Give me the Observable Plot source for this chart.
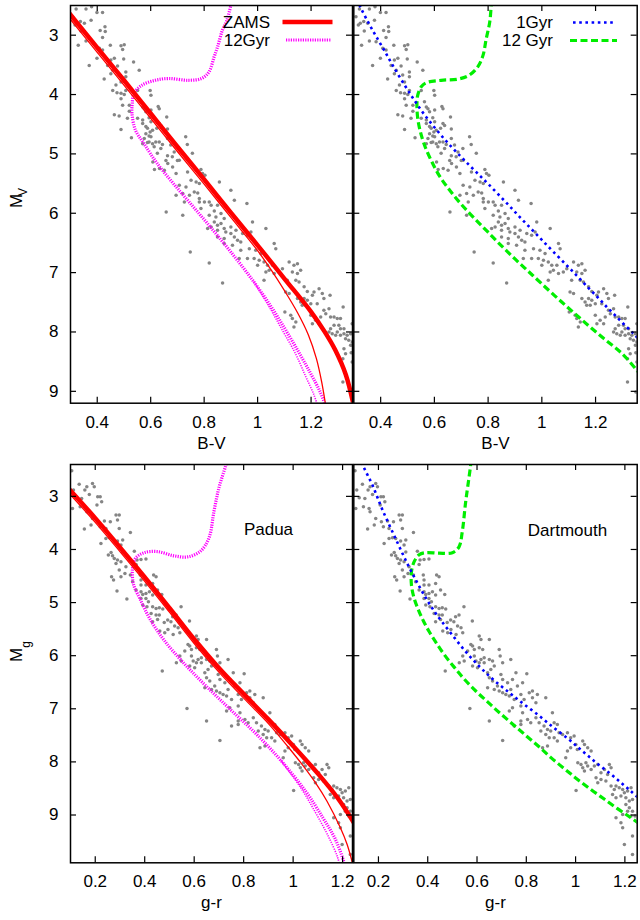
<!DOCTYPE html>
<html><head><meta charset="utf-8">
<script src="https://cdn.jsdelivr.net/npm/d3@7"></script>
<script src="https://cdn.jsdelivr.net/npm/@observablehq/plot@0.6"></script>
<style>
body{margin:0;background:#fff;font-family:"Liberation Sans",Arial,sans-serif;}
#wrap{position:relative;width:640px;height:920px;overflow:hidden;background:#fff}
.panel{position:absolute}
#legend{position:absolute;left:0;top:0;pointer-events:none}
</style></head><body><div id="wrap"></div>
<script>
// ---------- tick values ----------
const bvTicks = [0.4, 0.6, 0.8, 1.0, 1.2];
const grTicks = [0.2, 0.4, 0.6, 0.8, 1.0, 1.2];
const magTicks = [3, 4, 5, 6, 7, 8, 9];

// ---------- stars (B-V, M_V) ----------
const bvStars = [
[0.321,2.56],[0.358,2.56],[0.379,2.52],[0.399,2.62],[0.42,2.62],[0.308,2.69],[0.324,2.80],[0.317,2.83],[0.337,2.77],[0.352,2.80],[0.377,2.75],[0.411,2.92],[0.429,2.86],[0.43,2.94],[0.339,2.93],[0.358,3.10],[0.383,3.11],[0.329,3.17],[0.42,3.04],[0.449,3.17],[0.489,3.18],[0.501,3.16],[0.495,3.24],[0.408,3.22],[0.42,3.25],[0.399,3.39],[0.37,3.51],[0.451,3.42],[0.464,3.39],[0.439,3.51],[0.476,3.52],[0.499,3.40],[0.536,3.45],[0.458,3.59],[0.451,3.65],[0.482,3.67],[0.507,3.62],[0.507,3.70],[0.557,3.59],[0.426,3.74],[0.47,3.84],[0.489,3.79],[0.458,3.93],[0.474,3.97],[0.489,3.98],[0.501,4.0],[0.507,3.93],[0.551,3.93],[0.598,3.93],[0.601,4.01],[0.489,4.07],[0.495,4.18],[0.52,4.18],[0.52,4.28],[0.563,4.12],[0.57,4.21],[0.576,4.24],[0.582,4.29],[0.601,4.26],[0.628,4.20],[0.632,4.24],[0.464,4.34],[0.482,4.36],[0.513,4.40],[0.551,4.40],[0.57,4.43],[0.594,4.39],[0.57,4.49],[0.601,4.46],[0.66,4.38],[0.489,4.59],[0.582,4.54],[0.588,4.57],[0.598,4.63],[0.607,4.60],[0.632,4.49],[0.638,4.52],[0.623,4.57],[0.663,4.58],[0.582,4.66],[0.594,4.70],[0.576,4.74],[0.601,4.71],[0.594,4.80],[0.57,4.83],[0.588,4.81],[0.607,4.83],[0.619,4.80],[0.632,4.80],[0.644,4.84],[0.663,4.74],[0.675,4.85],[0.731,4.71],[0.528,4.73],[0.706,4.91],[0.638,4.91],[0.625,4.99],[0.663,5.03],[0.657,5.11],[0.688,4.97],[0.737,4.84],[0.756,4.99],[0.613,4.88],[0.681,5.05],[0.70,5.11],
[0.608,5.135],[0.664,5.163],[0.633,5.248],[0.651,5.276],[0.682,5.219],[0.707,5.107],[0.614,5.264],[0.695,5.332],[0.738,5.304],[0.788,5.264],[0.794,5.332],[0.803,5.36],[0.751,5.444],[0.77,5.472],[0.782,5.5],[0.707,5.529],[0.732,5.557],[0.72,5.669],[0.745,5.697],[0.763,5.641],[0.776,5.658],[0.695,5.697],[0.726,5.809],[0.782,5.753],[0.782,5.809],[0.801,5.809],[0.819,5.809],[0.788,5.922],[0.826,5.866],[0.85,5.866],[0.857,5.472],[0.9,5.613],[0.913,5.781],[0.96,5.837],[0.658,5.978],[0.72,6.034],[0.819,6.034],[0.838,5.961],[0.844,6.062],[0.863,6.006],[0.875,6.09],[0.838,6.146],[0.85,6.202],[0.863,6.174],[0.813,6.258],[0.826,6.23],[0.85,6.287],[0.875,6.258],[0.881,6.315],[0.9,6.23],[0.9,6.343],[0.919,6.287],[0.944,6.343],[0.85,6.399],[0.875,6.427],[0.913,6.399],[0.925,6.455],[0.937,6.483],[0.962,6.371],[0.981,6.146],[1.031,6.258],[0.975,6.315],[0.875,6.511],[0.906,6.539],[0.937,6.624],[0.969,6.596],[0.993,6.624],[1.012,6.68],[0.931,6.764],[0.962,6.764],[0.987,6.764],[1.006,6.792],[1.024,6.82],[1.037,6.877],[1.056,6.877],[1.062,6.511],[1.068,6.596],[1.0,6.877],[1.031,6.989],[1.043,6.961],[0.748,6.652],[0.819,6.837],[0.869,7.174],[1.062,7.017],[1.024,7.13],
[1.08,6.99],[1.093,6.933],[1.118,6.82],[1.136,6.877],[1.149,6.849],[1.161,6.961],[1.13,6.989],[1.149,7.017],[1.111,7.13],[1.143,7.13],[1.155,7.158],[1.174,7.24],[1.186,7.32],[1.105,7.326],[1.118,7.354],[1.149,7.438],[1.161,7.495],[1.174,7.438],[1.186,7.466],[1.199,7.523],[1.18,7.551],[1.167,7.551],[1.205,7.382],[1.211,7.326],[1.223,7.523],[1.23,7.27],[1.242,7.354],[1.248,7.438],[1.271,7.382],[1.267,7.607],[1.248,7.635],[1.255,7.691],[1.236,7.747],[1.217,7.804],[1.199,7.719],[1.205,7.86],[1.23,7.86],[1.273,7.747],[1.286,7.747],[1.298,7.775],[1.31,7.775],[1.304,7.888],[1.286,7.888],[1.273,7.944],[1.267,8.0],[1.279,8.028],[1.298,8.0],[1.31,7.944],[1.323,7.944],[1.292,8.056],[1.31,8.056],[1.323,8.028],[1.335,8.056],[1.348,8.028],[1.354,7.86],[1.32,7.579],[1.329,8.113],[1.341,8.141],[1.354,8.169],[1.348,8.225],[1.35,8.349],[1.323,8.281],[1.329,8.365],[1.319,8.45],[1.354,8.506],[1.319,8.843],[1.35,9.011],[1.13,7.775],[1.143,7.832],[1.136,7.916],[1.124,7.719],[1.102,7.663]
];

// ---------- stars (g-r, M_g) ----------
const grStars = [
[0.105,2.52],[0.135,2.77],[0.112,2.881],[0.122,3.026],[0.108,3.227],[0.145,3.038],[0.158,2.881],[0.166,2.819],[0.176,2.963],[0.189,2.756],[0.196,2.819],[0.21,3.007],[0.22,3.007],[0.226,3.101],[0.207,3.164],[0.139,3.195],[0.162,3.227],[0.166,3.29],[0.189,3.415],[0.183,3.541],[0.156,3.616],[0.212,3.478],[0.22,3.572],[0.237,3.465],[0.243,3.603],[0.261,3.478],[0.284,3.352],[0.297,3.352],[0.29,3.446],[0.297,3.603],[0.342,3.679],[0.243,3.792],[0.257,3.779],[0.27,3.792],[0.223,3.886],[0.29,3.842],[0.304,3.917],[0.311,3.823],[0.253,4.106],[0.264,4.056],[0.27,4.118],[0.277,4.169],[0.29,4.2],[0.284,4.263],[0.304,4.231],[0.311,4.048],[0.358,4.035],[0.369,4.2],[0.385,4.187],[0.405,4.181],[0.365,4.281],[0.324,4.325],[0.297,4.388],[0.266,4.514],[0.274,4.576],[0.304,4.514],[0.32,4.451],[0.342,4.482],[0.382,4.482],[0.385,4.576],[0.436,4.482],[0.446,4.514],[0.351,4.608],[0.385,4.671],[0.405,4.671],[0.432,4.639],[0.288,4.783],[0.365,4.765],[0.385,4.796],[0.392,4.846],[0.405,4.827],[0.419,4.796],[0.432,4.859],[0.452,4.765],[0.469,4.846],[0.328,4.934],[0.385,4.921],[0.405,4.921],[0.415,4.984],[0.392,5.047],[0.409,5.078],[0.432,5.078],[0.446,5.11],[0.459,5.097],[0.473,5.122],[0.426,5.204],[0.446,5.235],[0.459,5.235],[0.493,5.329],[0.513,5.267],[0.527,5.235],[0.547,5.078],[0.506,5.361],[0.581,5.348],[0.432,5.361],[0.479,5.373],[0.452,5.317],
[0.461,5.537],[0.481,5.568],[0.494,5.505],[0.521,5.442],[0.535,5.474],[0.542,5.568],[0.515,5.6],[0.609,5.631],[0.616,5.694],[0.65,5.694],[0.575,5.788],[0.582,5.819],[0.589,5.882],[0.609,5.85],[0.623,5.882],[0.562,5.913],[0.542,6.007],[0.528,6.133],[0.589,6.007],[0.596,6.101],[0.616,6.07],[0.629,6.039],[0.629,6.133],[0.582,6.196],[0.602,6.227],[0.609,6.133],[0.65,6.07],[0.663,6.101],[0.69,5.882],[0.694,6.007],[0.704,6.133],[0.737,6.07],[0.67,6.196],[0.656,6.258],[0.643,6.321],[0.65,6.415],[0.663,6.478],[0.643,6.604],[0.67,6.635],[0.697,6.353],[0.704,6.447],[0.683,6.572],[0.69,6.667],[0.704,6.698],[0.724,6.51],[0.758,6.321],[0.744,6.447],[0.737,6.635],[0.717,6.729],[0.731,6.761],[0.764,6.572],[0.785,6.51],[0.802,6.34],[0.778,6.729],[0.751,6.823],[0.791,6.823],[0.812,6.698],[0.825,6.667],[0.845,6.729],[0.825,6.792],[0.839,6.886],[0.879,6.792],[0.778,6.949],[0.785,7.075],[0.744,6.98],[0.731,7.043],[0.778,7.231],[0.751,7.326],[0.778,7.294],[0.805,7.2],[0.839,7.169],[0.852,7.263],[0.818,7.263],[0.859,7.42],[0.872,7.326],[0.886,7.388],[0.899,7.42],[0.906,7.075],[0.913,7.263],[0.926,7.294],[0.879,7.482],[0.893,7.545],[0.913,7.545],[0.933,7.451],[0.947,7.482],[0.967,7.451],[0.98,7.545],[0.994,7.514],[1.001,7.671],[0.98,7.734],[0.967,7.796],[0.96,7.922],[1.007,7.765],[0.926,7.608],[0.886,7.702],[0.866,7.734],[0.571,6.993],[0.471,6.29],[0.65,7.231],[0.704,7.596],[0.548,6.101],
[1.029,7.608],[1.036,7.671],[1.049,7.734],[1.063,7.797],[1.009,8.016],[1.022,8.048],[1.029,8.11],[1.042,8.016],[1.049,8.079],[1.036,8.173],[1.063,8.142],[1.076,8.079],[1.09,8.048],[1.103,8.205],[1.117,8.142],[1.083,8.299],[1.09,8.393],[1.103,8.33],[1.137,8.048],[1.144,8.11],[1.13,8.236],[1.123,8.362],[1.144,8.456],[1.157,8.519],[1.164,8.456],[1.177,8.487],[1.191,8.519],[1.15,8.613],[1.164,8.675],[1.184,8.644],[1.198,8.581],[1.211,8.55],[1.225,8.487],[1.204,8.675],[1.218,8.738],[1.231,8.707],[1.204,8.801],[1.218,8.864],[1.231,8.927],[1.211,8.927],[1.191,8.989],[1.164,9.052],[1.184,9.146],[1.191,9.24],[1.225,9.021],[1.241,9.021],[1.198,9.554],[1.231,9.397],[1.231,9.742],[1.002,8.537]
];

// ---------- model curves, B-V ----------
const zamsBV = [[0.29,2.60],[0.40,3.21],[0.50,3.76],[0.60,4.32],[0.70,4.88],[0.80,5.43],[0.90,5.99],[1.00,6.54],[1.10,7.10],[1.20,7.66],[1.25,7.99],[1.29,8.30],[1.33,8.72],[1.36,9.25]];
const padua1BV = [[0.29,2.68],[0.40,3.29],[0.50,3.84],[0.60,4.40],[0.70,4.96],[0.80,5.51],[0.90,6.07],[1.00,6.63],[1.05,6.95],[1.10,7.30],[1.15,7.68],[1.19,8.05],[1.22,8.45],[1.24,8.85],[1.255,9.25]];
const padua12BV = [[0.905,2.40],[0.885,2.75],[0.868,2.92],[0.85,3.20],[0.837,3.37],[0.818,3.62],[0.79,3.73],[0.741,3.76],[0.667,3.73],[0.617,3.76],[0.568,3.84],[0.537,3.98],[0.531,4.15],[0.53,4.32],[0.543,4.60],[0.574,4.82],[0.624,5.16],[0.687,5.51],[0.761,5.90],[0.836,6.30],[0.91,6.71],[0.985,7.15],[1.047,7.55],[1.10,7.93],[1.15,8.31],[1.196,8.68],[1.233,9.00],[1.255,9.25]];
const padua12BVthin = [[0.985,7.15],[1.04,7.55],[1.09,7.95],[1.14,8.35],[1.18,8.75],[1.21,9.05],[1.225,9.25]];
const dart1BV = [[0.30,2.30],[0.327,2.55],[0.358,2.82],[0.383,3.02],[0.414,3.26],[0.445,3.51],[0.489,3.84],[0.526,4.10],[0.563,4.34],[0.607,4.59],[0.651,4.82],[0.695,5.03],[0.732,5.20],[0.77,5.37],[0.801,5.51],[0.844,5.71],[0.882,5.89],[0.919,6.07],[0.962,6.27],[1.0,6.45],[1.043,6.65],[1.093,6.88],[1.13,7.05],[1.174,7.26],[1.211,7.43],[1.242,7.58],[1.273,7.72],[1.31,7.89],[1.342,8.03],[1.36,8.12]];
const dart12BV = [[0.815,2.40],[0.812,2.49],[0.806,2.78],[0.793,3.06],[0.781,3.34],[0.762,3.53],[0.731,3.67],[0.688,3.74],[0.625,3.76],[0.57,3.80],[0.551,3.87],[0.538,4.01],[0.535,4.18],[0.538,4.40],[0.548,4.63],[0.563,4.85],[0.588,5.11],[0.62,5.38],[0.66,5.63],[0.70,5.85],[0.75,6.09],[0.80,6.32],[0.85,6.55],[0.90,6.77],[0.95,6.98],[1.00,7.19],[1.075,7.50],[1.15,7.80],[1.225,8.09],[1.30,8.37],[1.36,8.68]];

// ---------- model curves, g-r ----------
const zamsGR = [[0.09,2.84],[0.20,3.41],[0.30,3.96],[0.40,4.52],[0.50,5.10],[0.60,5.69],[0.70,6.23],[0.80,6.72],[0.90,7.20],[1.00,7.70],[1.10,8.22],[1.18,8.68],[1.25,9.18]];
const padua1GR = [[0.09,2.92],[0.20,3.49],[0.30,4.04],[0.40,4.60],[0.50,5.18],[0.60,5.77],[0.70,6.31],[0.80,6.80],[0.90,7.28],[0.98,7.72],[1.04,8.07],[1.09,8.39],[1.137,8.74],[1.191,9.24],[1.218,9.55],[1.238,9.87],[1.245,10.0]];
const padua12GR = [[0.735,2.30],[0.727,2.43],[0.70,2.84],[0.68,3.28],[0.66,3.78],[0.626,4.03],[0.573,4.14],[0.519,4.12],[0.452,4.04],[0.398,4.06],[0.364,4.16],[0.351,4.34],[0.355,4.66],[0.38,4.92],[0.42,5.30],[0.48,5.72],[0.56,6.15],[0.65,6.58],[0.75,7.03],[0.85,7.47],[0.95,7.97],[1.05,8.55],[1.12,9.05],[1.17,9.45],[1.204,9.87],[1.21,10.0]];
const padua12GRthin = [[0.95,7.97],[1.03,8.48],[1.09,8.95],[1.14,9.38],[1.18,9.80],[1.19,10.0]];
const dart1GR = [[0.13,2.36],[0.142,2.47],[0.156,2.60],[0.176,2.79],[0.196,3.02],[0.216,3.25],[0.243,3.53],[0.27,3.80],[0.297,4.07],[0.324,4.33],[0.351,4.57],[0.378,4.80],[0.405,5.01],[0.432,5.20],[0.461,5.38],[0.508,5.66],[0.555,5.93],[0.609,6.20],[0.663,6.44],[0.724,6.67],[0.778,6.87],[0.846,7.11],[0.907,7.34],[0.968,7.56],[1.008,7.72],[1.049,7.88],[1.09,8.04],[1.143,8.23],[1.184,8.39],[1.224,8.55],[1.26,8.70]];
const dart12GR = [[0.575,2.30],[0.574,2.41],[0.567,2.66],[0.554,3.10],[0.54,3.67],[0.527,3.95],[0.50,4.06],[0.446,4.07],[0.392,4.06],[0.365,4.10],[0.345,4.23],[0.334,4.42],[0.334,4.67],[0.345,4.92],[0.365,5.17],[0.383,5.35],[0.405,5.54],[0.432,5.74],[0.467,5.98],[0.508,6.22],[0.548,6.44],[0.596,6.67],[0.643,6.87],[0.69,7.07],[0.745,7.29],[0.80,7.51],[0.853,7.72],[0.90,7.92],[0.955,8.13],[1.008,8.33],[1.062,8.52],[1.116,8.70],[1.17,8.88],[1.224,9.05],[1.26,9.17]];

// ---------- text ----------
const legendTL = ["ZAMS", "12Gyr"];
const legendTR = ["1Gyr", "12 Gyr"];
const noteBL = "Padua", noteBR = "Dartmouth";
const xLabelTop = "B-V", xLabelBottom = "g-r";

// ---------- styles ----------
const S = {
  zams:  {color: "#ff0000", width: 4.5, dash: null},
  thinR: {color: "#ff0000", width: 1.3, dash: null},
  mag:   {color: "#ff00ff", width: 3.2, dash: "1.2,1.2"},
  magT:  {color: "#ff00ff", width: 1.6, dash: "1.2,1.2"},
  blue:  {color: "#0000ff", width: 2.6, dash: "2.6,3.6"},
  green: {color: "#00ee00", width: 3.2, dash: "7,3.5"}
};
const FONT = '"Liberation Sans", Arial, Helvetica, sans-serif';

function panel(o) {
  const fw = o.width - o.ml - o.mr, fh = o.height - o.mt - o.mb;
  const X = d => d[0], Y = d => d[1];
  const marks = [
    Plot.dot(o.stars, {x: X, y: Y, r: 1.75, fill: "#858585", clip: true}),
    ...o.lines.map(l => Plot.line(l.data, {x: X, y: Y, stroke: l.s.color, strokeWidth: l.s.width,
        strokeDasharray: l.s.dash, strokeLinecap: "butt", strokeLinejoin: "round", curve: "catmull-rom", clip: true})),
    Plot.tickX(o.xTicks, {x: d => d, insetTop: fh - 6, stroke: "#000", strokeWidth: 1.2}),
    Plot.tickX(o.xTicks, {x: d => d, insetBottom: fh - 6, stroke: "#000", strokeWidth: 1.2}),
    Plot.tickY(o.yTicks, {y: d => d, insetRight: fw - 6, stroke: "#000", strokeWidth: 1.2}),
    Plot.tickY(o.yTicks, {y: d => d, insetLeft: fw - 6, stroke: "#000", strokeWidth: 1.2}),
    Plot.axisX(o.xTicks, {anchor: "bottom", tickSize: 0, tickPadding: o.xPad, tickFormat: d => String(d), label: null, fontSize: 17}),
    Plot.frame({stroke: "#000", strokeWidth: 1.5}),
    Plot.text([o.xLabel], {text: d => d, frameAnchor: "bottom", dy: o.xLabelDy, fontSize: 17})
  ];
  if (o.showY) {
    marks.push(Plot.axisY(o.yTicks, {anchor: "left", tickSize: 0, tickPadding: 12, tickFormat: d => String(d), label: null, fontSize: 17}));
    marks.push(Plot.text([o.yMain], {text: d => d, frameAnchor: "left", dx: o.yMainDx, dy: o.yMainDy, rotate: -90, fontSize: 17}));
    marks.push(Plot.text([o.ySub], {text: d => d, frameAnchor: "left", dx: o.ySubDx, dy: o.ySubDy, rotate: -90, fontSize: 12}));
  }
  if (o.note) {
    marks.push(Plot.text([o.note], {text: d => d, frameAnchor: "top", dx: o.noteDx, dy: o.noteDy, fontSize: 17}));
  }
  const chart = Plot.plot({
    width: o.width, height: o.height,
    marginLeft: o.ml, marginRight: o.mr, marginTop: o.mt, marginBottom: o.mb,
    x: {domain: o.xDomain, axis: null},
    y: {domain: o.yDomain, reverse: true, axis: null},
    style: {fontFamily: FONT, fontSize: "17px", background: "transparent", overflow: "visible", color: "#000"},
    marks
  });
  chart.classList.add("panel");
  chart.style.left = o.left + "px";
  chart.style.top = o.top + "px";
  chart.style.position = "absolute";
  chart.style.maxWidth = "none";
  return chart;
}

const wrap = document.getElementById("wrap");
const topCommon = {top: 0, height: 460, mt: 5, mb: 57.3, xDomain: [0.3, 1.355], yDomain: [2.5, 9.2],
  xTicks: bvTicks, yTicks: magTicks, stars: bvStars, xPad: 13, xLabel: xLabelTop, xLabelDy: 45.6};
const botCommon = {top: 450, height: 470, mt: 14, mb: 57.7, yDomain: [2.4, 9.9],
  xTicks: grTicks, yTicks: magTicks, stars: grStars, xPad: 11.7, xLabel: xLabelBottom, xLabelDy: 45};

wrap.appendChild(panel({...topCommon, left: 0, width: 360, ml: 70, mr: 8, showY: true,
  yMain: "M", ySub: "V", yMainDx: -54, yMainDy: 3.7, ySubDx: -47.5, ySubDy: -8.3,
  lines: [{data: padua12BV, s: S.mag}, {data: padua12BVthin, s: S.magT}, {data: padua1BV, s: S.thinR}, {data: zamsBV, s: S.zams}]}));
wrap.appendChild(panel({...topCommon, left: 340, width: 300, ml: 13.3, mr: 3.3, showY: false,
  lines: [{data: dart12BV, s: S.green}, {data: dart1BV, s: S.blue}]}));
wrap.appendChild(panel({...botCommon, left: 0, width: 360, ml: 70, mr: 8, xDomain: [0.1, 1.24], showY: true,
  yMain: "M", ySub: "g", yMainDx: -53.5, yMainDy: -1.7, ySubDx: -44, ySubDy: -16,
  note: noteBL, noteDx: 57, noteDy: 58,
  lines: [{data: padua12GR, s: S.mag}, {data: padua12GRthin, s: S.magT}, {data: padua1GR, s: S.thinR}, {data: zamsGR, s: S.zams}]}));
wrap.appendChild(panel({...botCommon, left: 340, width: 300, ml: 13.3, mr: 3.3, xDomain: [0.1, 1.25], showY: false,
  note: noteBR, noteDx: 72, noteDy: 59,
  lines: [{data: dart12GR, s: S.green}, {data: dart1GR, s: S.blue}]}));

// ---------- legends (key samples) ----------
const NS = "http://www.w3.org/2000/svg";
const leg = document.createElementNS(NS, "svg");
leg.setAttribute("id", "legend"); leg.setAttribute("width", 640); leg.setAttribute("height", 920);
function legItem(label, style, textRight, y, x1, x2) {
  const t = document.createElementNS(NS, "text");
  t.setAttribute("x", textRight); t.setAttribute("y", y);
  t.setAttribute("text-anchor", "end"); t.setAttribute("dominant-baseline", "central");
  t.setAttribute("font-family", FONT); t.setAttribute("font-size", 17);
  t.textContent = label; leg.appendChild(t);
  const l = document.createElementNS(NS, "line");
  l.setAttribute("x1", x1); l.setAttribute("x2", x2); l.setAttribute("y1", y); l.setAttribute("y2", y);
  l.setAttribute("stroke", style.color); l.setAttribute("stroke-width", style.width);
  if (style.dash) l.setAttribute("stroke-dasharray", style.dash);
  leg.appendChild(l);
}
legItem(legendTL[0], S.zams, 270, 22, 282.5, 332.5);
legItem(legendTL[1], S.mag, 270, 40, 286, 331);
legItem(legendTR[0], S.blue, 553, 22.5, 573, 613);
legItem(legendTR[1], S.green, 553, 40.5, 570, 617);
wrap.appendChild(leg);
</script></body></html>
